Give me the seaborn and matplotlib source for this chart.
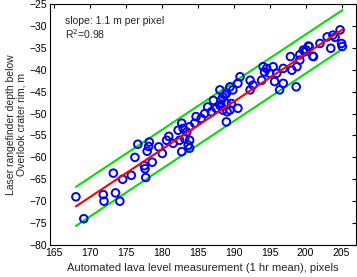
import numpy as np
import pandas as pd
import matplotlib
matplotlib.use("Agg")
import matplotlib.pyplot as plt
import seaborn as sns

# Data
pixels = [168.1, 169.2, 171.9, 172.0, 173.3, 173.6, 174.2, 174.6, 175.8, 176.3,
          176.7, 177.6, 177.7, 177.8, 178.0, 178.2, 178.3, 178.7, 179.6, 180.1,
          180.7, 181.6, 181.0, 182.8, 183.9, 183.7, 183.9, 183.2, 182.5, 182.3,
          183.5, 183.0, 182.8, 183.9, 184.6, 184.8, 185.5, 186.0, 186.9, 187.6,
          188.5, 189.1, 189.0, 188.1, 188.3, 188.8, 189.0, 188.3, 189.7, 190.6,
          188.5, 189.0, 189.5, 189.9, 190.6, 190.9, 192.3, 192.3, 192.7, 193.9,
          195.7, 195.0, 194.1, 194.3, 194.6, 195.5, 196.9, 196.4, 198.7, 198.1,
          197.9, 199.2, 199.7, 200.4, 198.8, 199.2, 201.0, 200.5, 202.0, 203.5,
          205.0, 205.1, 204.1, 203.0, 203.8, 204.8, 196.9, 196.0, 201.1, 199.9,
          200.1, 188.1, 189.5, 187.2, 186.4]
depth = [-69.0, -74.0, -68.5, -70.0, -63.6, -68.1, -70.0, -65.0, -64.1, -60.0,
         -57.0, -61.9, -62.6, -64.6, -58.6, -57.5, -56.5, -61.1, -57.6, -59.1,
         -56.1, -56.8, -55.2, -58.7, -57.9, -57.2, -56.1, -55.7, -56.1, -53.8,
         -54.2, -53.4, -52.2, -53.0, -52.2, -50.7, -51.1, -50.0, -49.6, -48.8,
         -49.2, -49.6, -47.7, -48.1, -46.9, -45.8, -51.9, -48.4, -47.7, -48.8,
         -46.2, -45.4, -43.9, -44.6, -43.1, -41.6, -42.4, -44.6, -43.5, -42.4,
         -42.7, -40.8, -39.3, -40.5, -39.7, -39.3, -43.1, -44.6, -43.9, -40.1,
         -37.0, -36.6, -35.5, -34.6, -39.3, -37.8, -36.9, -34.7, -34.0, -35.1,
         -34.0, -34.7, -32.6, -32.5, -32.1, -30.9, -39.7, -40.8, -37.0, -35.9,
         -35.5, -44.6, -49.2, -47.0, -48.5]

fit_slope = 1.09
fit_intercept = -254.42
band_halfwidth = 4.45

x_ticks = [165, 170, 175, 180, 185, 190, 195, 200, 205]
y_ticks = [-80, -75, -70, -65, -60, -55, -50, -45, -40, -35, -30, -25]

sns.set_theme(style="white")
plt.rcParams['font.family'] = ['Liberation Sans', 'DejaVu Sans']

df = pd.DataFrame({"x": pixels, "y": depth})
xs = np.array([min(pixels), max(pixels)])
fit = fit_slope * xs + fit_intercept
lines = pd.DataFrame({
    "x": np.concatenate([xs, xs, xs]),
    "y": np.concatenate([fit + band_halfwidth, fit - band_halfwidth, fit]),
    "which": ["upper"] * 2 + ["lower"] * 2 + ["fit"] * 2,
})

fig = plt.figure(figsize=(3.57, 2.77), dpi=100)
ax = fig.add_axes([0.140, 0.1155, 0.857, 0.870])

sns.lineplot(data=lines[lines.which == "upper"], x="x", y="y", color="#00e000",
             linewidth=1.5, ax=ax, legend=False)
sns.lineplot(data=lines[lines.which == "lower"], x="x", y="y", color="#00e000",
             linewidth=1.5, ax=ax, legend=False)
sns.scatterplot(data=df, x="x", y="y", marker="o", s=30, facecolors="none",
                edgecolor="#0000ff", linewidth=1.4, ax=ax, legend=False, zorder=3)
sns.lineplot(data=lines[lines.which == "fit"], x="x", y="y", color="#ff0000",
             linewidth=1.5, ax=ax, legend=False, zorder=4)

ax.set_xlim(164.5, 207)
ax.set_ylim(-80, -25)
ax.set_xticks(x_ticks)
ax.set_yticks(y_ticks)
ax.set_xticklabels([str(t) for t in x_ticks])
ax.set_yticklabels(["\u2212" + str(abs(t)) for t in y_ticks])
ax.tick_params(direction="in", length=3, width=0.8, top=True, right=True,
               labelsize=7.5, pad=2, colors="black")
for s in ax.spines.values():
    s.set_color("black")
    s.set_linewidth(0.8)

ax.set_xlabel("Automated lava level measurement (1 hr mean), pixels",
              fontsize=8, labelpad=4)
ax.set_ylabel("Laser rangefinder depth below\nOverlook crater rim, m",
              fontsize=7.5, labelpad=2, linespacing=1.1)

ax.text(0.05, 0.93, "slope: 1.1 m per pixel", transform=ax.transAxes,
        fontsize=7.5, va="center", ha="left")
ax.text(0.05, 0.875, "R$^2$=0.98", transform=ax.transAxes,
        fontsize=7.5, va="center", ha="left")

fig.savefig("out.png", dpi=100)
